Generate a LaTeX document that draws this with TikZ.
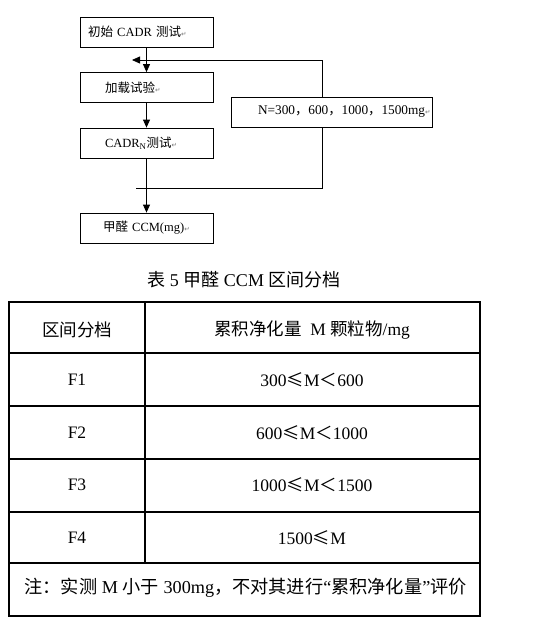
\documentclass[tikz,border=0pt]{standalone}
\usepackage{fontspec}
\setmainfont{Liberation Serif}
\newfontfamily\cjk{Noto Sans CJK SC}
\newfontfamily\symfont{DejaVu Sans}
\usetikzlibrary{arrows.meta}
\newcommand{\zh}[1]{{\cjk #1}}
\newcommand{\ret}{{\symfont\fontsize{6.5}{6.5}\selectfont\color{black!55}↵}}

\tikzset{
  stepbox/.style={draw, line width=0.8pt, minimum width=133pt, minimum height=30pt,
    text width=123pt, inner xsep=5pt, align=left, font=\fontsize{12.5}{14}\selectfont},
  flow/.style={line width=0.8pt, -{Triangle[length=8pt,width=7pt]}},
  cell/.style={font=\fontsize{17.5}{20}\selectfont},
  rule/.style={line width=1.2pt},
}

\begin{document}
\begin{tikzpicture}[x=1pt,y=-1pt]
  \useasboundingbox (0,0) rectangle (544,627);
  % flow chart
  \node[stepbox] (init) at (146.5,32) {\hspace*{3pt}\zh{初始} CADR \zh{测试}\ret};
  \node[stepbox] (load) at (146.5,87.5) {\hspace*{20pt}\zh{加载试验}\ret};
  \node[stepbox] (cadrn) at (146.5,143) {\hspace*{20pt}CADR\textsubscript{N}\zh{测试}\ret};
  \node[stepbox] (ccm) at (146.5,228) {\hspace*{18pt}\zh{甲醛} CCM(mg)\ret};
  \node[stepbox, minimum width=201pt, text width=191pt, font=\fontsize{13.3}{15}\selectfont]
    (dose) at (331.5,112) {\hspace*{22pt}N=300\zh{，}600\zh{，}1000\zh{，}1500mg\ret};
  \coordinate (back) at (132,60);
  \coordinate (loopend) at (136,188);
  \draw[flow] (init) -- (load);
  \draw[flow] (load) -- (cadrn);
  \draw[flow] (cadrn) -- (ccm);
  \draw[flow] ([xshift=-9.5pt]dose.north) |- (back);
  \draw[line width=0.8pt] ([xshift=-9.5pt]dose.south) |- (loopend);

  % table
  \node[cell, font=\fontsize{18}{20}\selectfont] (caption) at (244,280)
    {\zh{表} 5 \zh{甲醛} CCM \zh{区间分档}};
  \draw[line width=1.6pt] (9,302) rectangle (480,616);
  \foreach \y in {353,406,459,512,563}
    \draw[rule] (9,\y) -- (480,\y);
  \draw[rule] (145,302) -- (145,563);
  \node[cell] (h1) at (77,330) {\zh{区间分档}};
  \node[cell] (h2) at (312,330) {\zh{累积净化量}\ \ M \zh{颗粒物}/mg};
  \foreach \y/\f/\v [count=\i] in {380/F1/{300\zh{≤}M\zh{＜}600},
      433/F2/{600\zh{≤}M\zh{＜}1000}, 485/F3/{1000\zh{≤}M\zh{＜}1500},
      538/F4/{1500\zh{≤}M}} {
    \node[cell] (f\i) at (77,\y) {\f};
    \node[cell] (m\i) at (312,\y) {\v};
  }
  \node[cell, anchor=west, font=\fontsize{18.2}{20}\selectfont] (note) at (21,588)
    {\zh{注：实测} M \zh{小于} 300mg\zh{，不对其进行}“\zh{累积净化量}”\zh{评价}};
\end{tikzpicture}
\end{document}
